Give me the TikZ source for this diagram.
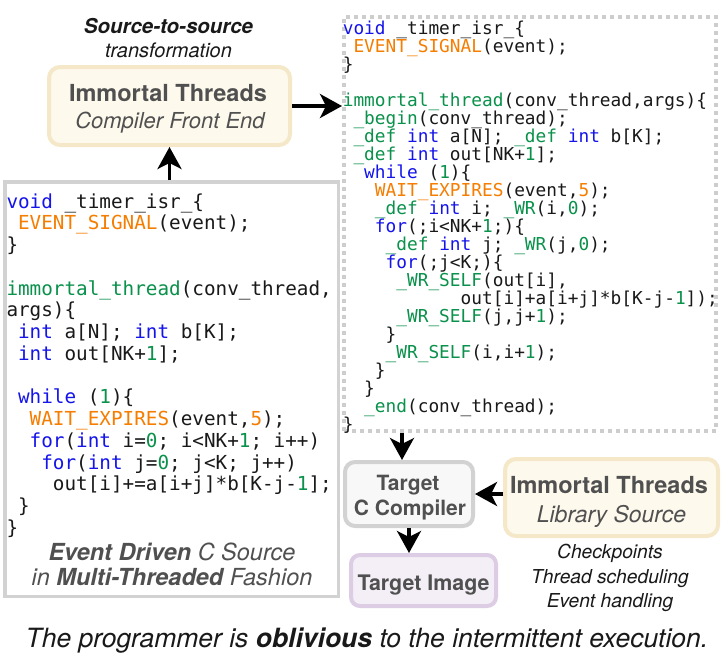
\documentclass[tikz,border=0pt]{standalone}
\usepackage{fontspec}
\setmainfont{TeX Gyre Heros}
\setmonofont{DejaVu Sans Mono}
\usetikzlibrary{arrows.meta}

\definecolor{kwblue}{RGB}{20,20,235}
\definecolor{evorange}{RGB}{245,125,0}
\definecolor{rtgreen}{RGB}{10,145,75}
\definecolor{codeink}{RGB}{25,25,25}
\definecolor{boxtext}{RGB}{80,80,80}
\definecolor{creamfill}{RGB}{253,249,236}
\definecolor{creamedge}{RGB}{245,232,200}
\definecolor{compfill}{RGB}{248,248,248}
\definecolor{compedge}{RGB}{210,210,210}
\definecolor{imgfill}{RGB}{244,239,246}
\definecolor{imgedge}{RGB}{220,205,228}
\definecolor{srcedge}{RGB}{210,210,210}
\definecolor{outedge}{RGB}{205,205,205}

% syntax colouring helpers
\newcommand\cb[1]{\textcolor{kwblue}{#1}}
\newcommand\co[1]{\textcolor{evorange}{#1}}
\newcommand\cg[1]{\textcolor{rtgreen}{#1}}
% indentation by a number of character cells
\newcommand\ci[1]{\hspace*{#1\fontcharwd\font`\x}}

\tikzset{
  arr/.style={line width=3.5pt, -{Stealth[length=22pt,width=24pt,inset=6pt]}},
  creambox/.style={draw=creamedge, fill=creamfill, line width=4pt, rounded corners=11pt, inner sep=0pt},
  compbox/.style={draw=compedge, fill=compfill, line width=4pt, rounded corners=10pt, inner sep=0pt},
  imgbox/.style={draw=imgedge, fill=imgfill, line width=4pt, rounded corners=9pt, inner sep=0pt},
  srcbox/.style={draw=srcedge, fill=white, line width=3.5pt, inner sep=0pt},
  outbox/.style={draw=outedge, line width=4pt, dash pattern=on 4pt off 4pt, inner sep=0pt},
  lbl/.style={inner sep=0pt, anchor=base},
  title/.style={lbl, text=boxtext, font=\bfseries\fontsize{23.5}{27}\selectfont},
  subtitle/.style={lbl, text=boxtext, font=\itshape\fontsize{22}{26}\selectfont},
  small/.style={lbl, text=boxtext, font=\bfseries\fontsize{21}{25}\selectfont},
  note/.style={lbl, text=codeink, font=\itshape\fontsize{19.2}{24}\selectfont},
  % multi-line code blocks are placed by the baseline of their last line
  code/.style={inner sep=0pt, align=left, text=codeink, anchor=base west},
}

\begin{document}
\begin{tikzpicture}[x=1pt,y=-1pt]
\useasboundingbox (0,0) rectangle (726,664);
\fill[white] (0,0) rectangle (726,664);

% transformation label
\node[lbl, text=codeink, font=\bfseries\itshape\fontsize{20.5}{24}\selectfont] (s2s) at (168.5,33) {Source-to-source};
\node[lbl, text=codeink, font=\itshape\fontsize{20}{24}\selectfont] (s2s-sub) at (168.5,57) {transformation};

% compiler front end
\node[creambox, minimum width=241pt, minimum height=78pt] (fe) at (169.5,106) {};
\node[title] (fe-title) at (168,101) {Immortal Threads};
\node[subtitle] (fe-sub) at (170,128) {Compiler Front End};

% original event-driven source
\node[srcbox, minimum width=333.5pt, minimum height=414.5pt] (src) at (171.5,389) {};
\node[code, font=\ttfamily\fontsize{19.3}{21.75}\selectfont] (src-code) at (6.3,534.25) {%
\cb{void} \_timer\_isr\_\{\\
\ci{1}\co{EVENT\_SIGNAL}(event);\\
\}\\[21.75pt]
\cg{immortal\_thread}(conv\_thread,\\
args)\{\\
\ci{1}\cb{int} a[N]; \cb{int} b[K];\\
\ci{1}\cb{int} out[NK+\cg{1}];\\[21.75pt]
\ci{1}\cb{while} (\cg{1})\{\\
\ci{2}\co{WAIT\_EXPIRES}(event,\co{5});\\
\ci{2}\cb{for}(\cb{int} i=\cg{0}; i<NK+\cg{1}; i++)\\
\ci{3}\cb{for}(\cb{int} j=\cg{0}; j<K; j++)\\
\ci{4}out[i]+=a[i+j]*b[K-j-\cg{1}];\\
\ci{1}\}\\
\}};
\node[lbl, text=boxtext, font=\itshape\fontsize{23.5}{27}\selectfont] (src-cap1) at (172,560) {\textbf{Event Driven} C Source};
\node[lbl, text=boxtext, font=\itshape\fontsize{23.5}{27}\selectfont] (src-cap2) at (172,585) {in \textbf{Multi-Threaded} Fashion};

% transformed source
\node[outbox, minimum width=372pt, minimum height=414pt] (out) at (530,224) {};
\node[code, font=\ttfamily\fontsize{17.8}{18}\selectfont] (out-code) at (342.6,430) {%
\cb{void} \_timer\_isr\_\{\\
\ci{1}\co{EVENT\_SIGNAL}(event);\\
\}\\[18pt]
\cg{immortal\_thread}(conv\_thread,args)\{\\
\ci{1}\cg{\_begin}(conv\_thread);\\
\ci{1}\cg{\_def} \cb{int} a[N]; \cg{\_def} \cb{int} b[K];\\
\ci{1}\cg{\_def} \cb{int} out[NK+\cg{1}];\\
\ci{2}\cb{while} (\cg{1})\{\\
\ci{3}\co{WAIT\_EXPIRES}(event,\co{5});\\
\ci{3}\cg{\_def} \cb{int} i; \cg{\_WR}(i,\cg{0});\\
\ci{3}\cb{for}(;i<NK+\cg{1};)\{\\
\ci{4}\cg{\_def} \cb{int} j; \cg{\_WR}(j,\cg{0});\\
\ci{4}\cb{for}(;j<K;)\{\\
\ci{5}\cg{\_WR\_SELF}(out[i],\\
\ci{11}out[i]+a[i+j]*b[K-j-\cg{1}]);\\
\ci{5}\cg{\_WR\_SELF}(j,j+\cg{1});\\
\ci{4}\}\\
\ci{4}\cg{\_WR\_SELF}(i,i+\cg{1});\\
\ci{3}\}\\
\ci{2}\}\\
\ci{2}\cg{\_end}(conv\_thread);\\
\}};

% target compiler
\node[compbox, minimum width=128pt, minimum height=64pt] (cc) at (409,494) {};
\node[small] (cc-l1) at (408,490) {Target};
\node[small] (cc-l2) at (410,515) {C Compiler};

% library
\node[creambox, minimum width=213pt, minimum height=77pt] (lib) at (611.5,497.5) {};
\node[title] (lib-title) at (609,493) {Immortal Threads};
\node[subtitle, font=\itshape\fontsize{23}{26}\selectfont] (lib-sub) at (611.5,522) {Library Source};
\node[note] (n1) at (610,558) {Checkpoints};
\node[note] (n2) at (610,583) {Thread scheduling};
\node[note] (n3) at (610,607) {Event handling};

% target image
\node[imgbox, minimum width=145pt, minimum height=51pt] (ti) at (423.5,580.5) {};
\node[small, font=\bfseries\fontsize{21.4}{25}\selectfont] (ti-l) at (423.5,590) {Target Image};

% flow
\draw[arr] (fe.south |- src.north) -- (fe.south);
\draw[arr] (fe.east) -- (fe.east -| out.west);
\draw[arr] ([xshift=-7pt]cc.north |- out.south) -- ([xshift=-7pt]cc.north);
\draw[arr] (lib.west |- cc.east) -- (cc.east);
\draw[arr] (cc.south) -- (cc.south |- ti.north);

% caption
\node[lbl, text=codeink, font=\itshape\fontsize{26.5}{30}\selectfont] (caption) at (367,647) {The programmer is \textbf{oblivious} to the intermittent execution.};
\end{tikzpicture}
\end{document}
